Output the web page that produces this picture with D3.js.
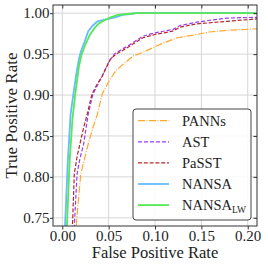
<!DOCTYPE html>
<html>
<head>
<meta charset="utf-8">
<script src="https://cdn.jsdelivr.net/npm/d3@7"></script>
<style>
  body { margin: 0; background: #fff; }
</style>
</head>
<body>
<div id="chart"></div>
<script>
// series values (false positive rate / true positive rate)
var seriesNames = ["PANNs", "AST", "PaSST", "NANSA", "NANSA_LW"];

var pannsFpr = [0.014, 0.015, 0.020, 0.024, 0.028, 0.033, 0.038, 0.043, 0.048, 0.052, 0.058, 0.066, 0.077, 0.087, 0.098, 0.110, 0.124, 0.140, 0.159, 0.177, 0.195, 0.210];
var pannsTpr = [0.700, 0.741, 0.804, 0.822, 0.840, 0.860, 0.877, 0.901, 0.912, 0.920, 0.930, 0.938, 0.948, 0.952, 0.958, 0.964, 0.970, 0.973, 0.977, 0.979, 0.980, 0.981];

var astFpr = [0.012, 0.013, 0.016, 0.019, 0.023, 0.028, 0.033, 0.038, 0.043, 0.050, 0.056, 0.066, 0.075, 0.087, 0.100, 0.119, 0.127, 0.145, 0.177, 0.210];
var astTpr = [0.700, 0.741, 0.804, 0.822, 0.840, 0.877, 0.901, 0.912, 0.923, 0.940, 0.950, 0.957, 0.963, 0.972, 0.976, 0.980, 0.985, 0.989, 0.994, 0.995];

var passtFpr = [0.010, 0.011, 0.013, 0.016, 0.019, 0.023, 0.027, 0.032, 0.037, 0.043, 0.048, 0.052, 0.058, 0.066, 0.073, 0.087, 0.100, 0.119, 0.127, 0.145, 0.177, 0.210];
var passtTpr = [0.700, 0.741, 0.804, 0.825, 0.840, 0.860, 0.877, 0.901, 0.912, 0.923, 0.935, 0.944, 0.950, 0.955, 0.960, 0.970, 0.974, 0.978, 0.983, 0.987, 0.990, 0.993];

var nansaFpr = [0.002, 0.003, 0.006, 0.009, 0.012, 0.015, 0.018, 0.020, 0.024, 0.028, 0.033, 0.038, 0.046, 0.057, 0.065, 0.073, 0.080, 0.210];
var nansaTpr = [0.700, 0.741, 0.820, 0.877, 0.901, 0.925, 0.944, 0.953, 0.965, 0.978, 0.985, 0.990, 0.992, 0.995, 0.998, 0.999, 1.000, 1.000];

var nansaLwFpr = [0.004, 0.005, 0.008, 0.011, 0.014, 0.018, 0.021, 0.025, 0.030, 0.035, 0.039, 0.045, 0.052, 0.060, 0.070, 0.080, 0.210];
var nansaLwTpr = [0.700, 0.741, 0.820, 0.871, 0.901, 0.935, 0.950, 0.962, 0.974, 0.982, 0.987, 0.991, 0.995, 0.998, 0.999, 1.000, 1.000];

var xTicks = [0.00, 0.05, 0.10, 0.15, 0.20];
var yTicks = [0.75, 0.80, 0.85, 0.90, 0.95, 1.00];

var serif = "'Liberation Serif'";

var svgWidth = 268;
var svgHeight = 268;
var margin = { top: 5, right: 11, bottom: 42, left: 53 };
var width = svgWidth - margin.left - margin.right;
var height = svgHeight - margin.top - margin.bottom;

var svg = d3.select("#chart")
  .append("svg")
  .attr("width", svgWidth)
  .attr("height", svgHeight);

var chartGroup = svg.append("g")
  .attr("transform", `translate(${margin.left}, ${margin.top})`);

var xScale = d3.scaleLinear().domain([-0.01, 0.21]).range([0, width]);
var yScale = d3.scaleLinear().domain([0.74, 1.01]).range([height, 0]);

// grid
chartGroup.selectAll(".gx").data(xTicks).enter().append("line")
  .attr("x1", d => xScale(d)).attr("x2", d => xScale(d))
  .attr("y1", 0).attr("y2", height)
  .attr("stroke", "#d6d6d6").attr("stroke-width", 1);
chartGroup.selectAll(".gy").data(yTicks).enter().append("line")
  .attr("x1", 0).attr("x2", width)
  .attr("y1", d => yScale(d)).attr("y2", d => yScale(d))
  .attr("stroke", "#d6d6d6").attr("stroke-width", 1);

// curves
svg.append("defs").append("clipPath").attr("id", "clip")
  .append("rect").attr("width", width).attr("height", height);

var series = [
  { name: seriesNames[0], fpr: pannsFpr, tpr: pannsTpr, color: "#ffa82e", width: 1.2, dash: "7,1.5,1,1.5" },
  { name: seriesNames[1], fpr: astFpr, tpr: astTpr, color: "#9a3cf8", width: 1.2, dash: "4,2" },
  { name: seriesNames[2], fpr: passtFpr, tpr: passtTpr, color: "#b8282a", width: 1.2, dash: "4,1.8" },
  { name: seriesNames[3], fpr: nansaFpr, tpr: nansaTpr, color: "#66bcff", width: 1.8, dash: null },
  { name: seriesNames[4], fpr: nansaLwFpr, tpr: nansaLwTpr, color: "#55e855", width: 1.8, dash: null }
];

var line = d3.line()
  .x(d => xScale(d[0]))
  .y(d => yScale(d[1]));

var curves = chartGroup.append("g").attr("clip-path", "url(#clip)");
series.forEach(function(s) {
  curves.append("path")
    .datum(s.fpr.map((f, i) => [f, s.tpr[i]]))
    .attr("d", line)
    .attr("fill", "none")
    .attr("stroke", s.color)
    .attr("stroke-width", s.width)
    .attr("stroke-dasharray", s.dash);
});

// axes
var bottomAxis = d3.axisBottom(xScale).tickValues(xTicks).tickFormat(d3.format(".2f")).tickSize(3.5).tickPadding(1);
var leftAxis = d3.axisLeft(yScale).tickValues(yTicks).tickFormat(d3.format(".2f")).tickSize(3).tickPadding(0.5);
var topAxis = d3.axisTop(xScale).tickValues(xTicks).tickFormat("").tickSize(-3.5);
var rightAxis = d3.axisRight(yScale).tickValues(yTicks).tickFormat("").tickSize(-3.5);

[
  chartGroup.append("g").attr("transform", `translate(0, ${height})`).call(bottomAxis),
  chartGroup.append("g").call(leftAxis),
  chartGroup.append("g").call(topAxis),
  chartGroup.append("g").attr("transform", `translate(${width}, 0)`).call(rightAxis)
].forEach(function(g) {
  g.attr("font-family", null).attr("font-size", null);
  g.select(".domain").remove();
  g.selectAll("line").attr("stroke", "#333");
  g.selectAll("text").attr("fill", "#222")
    .style("font-size", "15px")
    .style("font-family", serif);
});

chartGroup.append("rect")
  .attr("width", width).attr("height", height)
  .attr("fill", "none").attr("stroke", "#333").attr("stroke-width", 1);

// axis labels
chartGroup.append("text")
  .attr("transform", "rotate(-90)")
  .attr("x", -height / 2)
  .attr("y", -36)
  .attr("text-anchor", "middle")
  .attr("fill", "#222")
  .style("font-family", serif)
  .style("font-size", "17px")
  .text("True Positive Rate");

chartGroup.append("text")
  .attr("x", width / 2)
  .attr("y", height + 32)
  .attr("text-anchor", "middle")
  .attr("fill", "#222")
  .style("font-family", serif)
  .style("font-size", "16.5px")
  .text("False Positive Rate");

// legend
var legend = svg.append("g").attr("transform", "translate(133, 109)");
legend.append("rect")
  .attr("width", 118).attr("height", 111)
  .attr("rx", 3)
  .attr("fill", "#fff").attr("fill-opacity", 0.85)
  .attr("stroke", "#444").attr("stroke-width", 1);

series.forEach(function(s, i) {
  var yy = 11.7 + i * 21.1;
  legend.append("line")
    .attr("x1", 5).attr("x2", 36)
    .attr("y1", yy).attr("y2", yy)
    .attr("stroke", s.color)
    .attr("stroke-width", s.width)
    .attr("stroke-dasharray", s.dash);
  var t = legend.append("text")
    .attr("x", 49).attr("y", yy + 5.3)
    .attr("fill", "#222")
    .style("font-family", serif)
    .style("font-size", "14.5px");
  var parts = s.name.split("_");
  t.append("tspan").text(parts[0]);
  if (parts[1]) {
    t.append("tspan").style("font-size", "9.5px").attr("dy", 3).text(parts[1]);
  }
});
</script>
</body>
</html>
